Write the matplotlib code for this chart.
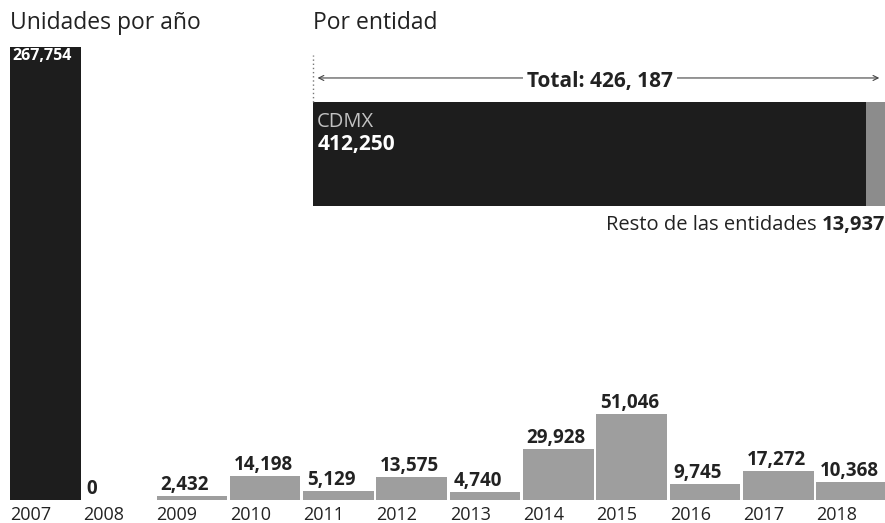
import matplotlib
matplotlib.use("Agg")
import matplotlib.pyplot as plt

plt.rcParams['font.family'] = ['Open Sans', 'DejaVu Sans']

# ---- data ----
years = ["2007", "2008", "2009", "2010", "2011", "2012", "2013",
         "2014", "2015", "2016", "2017", "2018"]
units = [267754, 0, 2432, 14198, 5129, 13575, 4740,
         29928, 51046, 9745, 17272, 10368]
unit_labels = ["267,754", "0", "2,432", "14,198", "5,129", "13,575", "4,740",
               "29,928", "51,046", "9,745", "17,272", "10,368"]
entities = ["CDMX", "Resto de las entidades"]
entity_values = [412250, 13937]
entity_labels = ["412,250", "13,937"]
total_label = "426, 187"

DARK = "#1d1d1d"
GRAY = "#9e9e9e"
GRAY2 = "#8c8c8c"
TXT = "#222222"

W, H = 885, 523
fig = plt.figure(figsize=(W / 100, H / 100), dpi=100)
fig.patch.set_facecolor("white")

# ---- main bar chart ----
ax = fig.add_axes([8.6 / W, 23 / H, 879.6 / W, 453 / H])
x = list(range(len(years)))
colors = [DARK] + [GRAY] * (len(years) - 1)
bw = 0.962
ax.bar(x, units, width=bw, color=colors, linewidth=0)
ax.set_xlim(-0.5, len(years) - 0.5)
ax.set_ylim(0, units[0])
ax.axis("off")

for i, (v, lab, yr) in enumerate(zip(units, unit_labels, years)):
    left = i - bw / 2
    ax.annotate(yr, xy=(left, 0), xytext=(0, -14.4), textcoords="offset points",
                ha="left", va="baseline", fontsize=13, color=TXT,
                annotation_clip=False)
    if i == 0:
        ax.annotate(lab, xy=(left, v), xytext=(1.5, -9.4), textcoords="offset points",
                    ha="left", va="baseline", fontsize=11.5, fontweight="bold",
                    color="white", annotation_clip=False)
    else:
        ax.annotate(lab, xy=(left, v), xytext=(2.5, 4.3), textcoords="offset points",
                    ha="left", va="baseline", fontsize=13.5, fontweight="bold",
                    color=TXT, annotation_clip=False)

fig.text(10 / W, 1 - 29 / H, "Unidades por año", fontsize=16.5, color=TXT,
         ha="left", va="baseline")
fig.text(313 / W, 1 - 29 / H, "Por entidad", fontsize=16.5, color=TXT,
         ha="left", va="baseline")

# ---- inset: por entidad ----
axi = fig.add_axes([313 / W, (H - 206) / H, 572 / W, 104 / H])
total = sum(entity_values)
axi.barh([0], [entity_values[0]], left=0, height=1.0, color=DARK, linewidth=0)
axi.barh([0], [entity_values[1]], left=entity_values[0], height=1.0,
         color=GRAY2, linewidth=0)
axi.set_xlim(0, total)
axi.set_ylim(-0.5, 0.5)
axi.axis("off")

# dotted vertical guide
axi.plot([0, 0], [1.0, 1.45], transform=axi.transAxes, ls=(0, (1, 2)),
         color="#777777", lw=1, clip_on=False)
# total arrow
axi.annotate("", xy=(0.008, 1.231), xytext=(0.99, 1.231),
             xycoords="axes fraction", textcoords="axes fraction",
             arrowprops=dict(arrowstyle="<->", color="#444444", lw=0.8,
                             shrinkA=0, shrinkB=0, mutation_scale=9),
             annotation_clip=False)
axi.text(0.502, 1.144, "Total: " + total_label, transform=axi.transAxes,
         ha="center", va="baseline", fontsize=15, fontweight="bold", color=TXT,
         bbox=dict(boxstyle="square,pad=0.2", fc="white", ec="none"))

axi.annotate(entities[0], xy=(0, 0.5), xytext=(3, -18), textcoords="offset points",
             ha="left", va="baseline", fontsize=14.5, color="#c2c2c2",
             annotation_clip=False)
axi.annotate(entity_labels[0], xy=(0, 0.5), xytext=(3, -34.6),
             textcoords="offset points", ha="left", va="baseline", fontsize=15,
             fontweight="bold", color="white", annotation_clip=False)

num = axi.annotate(entity_labels[1], xy=(total, -0.5), xytext=(0, -17.3),
                   textcoords="offset points", ha="right", va="baseline",
                   fontsize=14.5, fontweight="bold", color=TXT,
                   annotation_clip=False)
axi.annotate(entities[1] + " ", xy=(0, 0), xycoords=num, ha="right",
             va="bottom", fontsize=14.5, color=TXT, annotation_clip=False)

fig.savefig("out.png", dpi=100, facecolor="white")
